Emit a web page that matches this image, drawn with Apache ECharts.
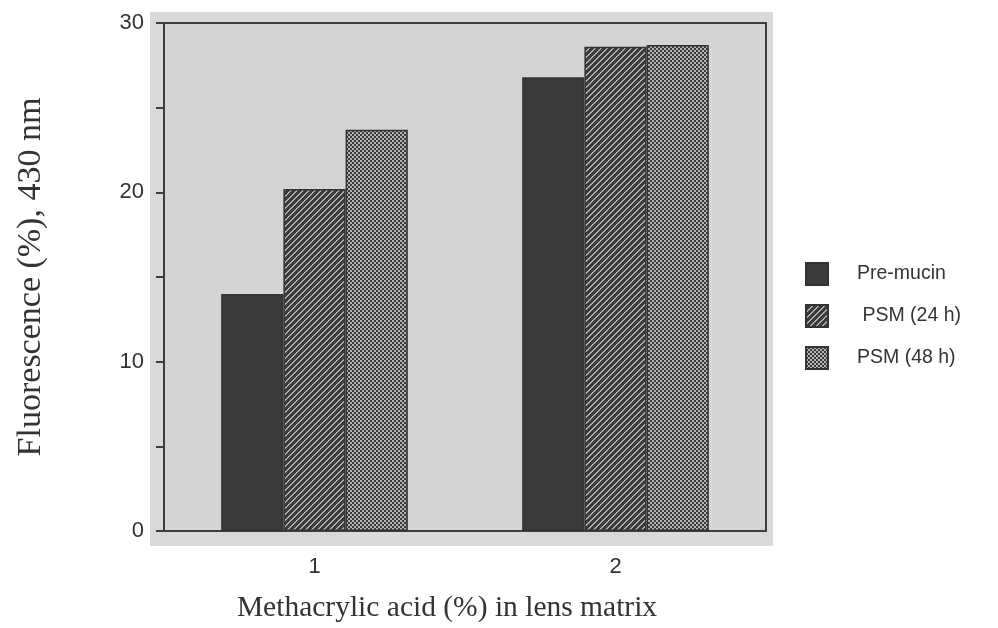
<!DOCTYPE html>
<html>
<head>
<meta charset="utf-8">
<script src="https://cdn.jsdelivr.net/npm/echarts@6/dist/echarts.min.js"></script>
<style>
  html, body { margin: 0; padding: 0; background: #ffffff; }
  #chart { width: 998px; height: 628px; }
</style>
</head>
<body>
<div id="chart"></div>
<script>
// Methacrylic acid content in the lens matrix (%)
const categories = ['1', '2'];
// Fluorescence (%) at 430 nm for each treatment
const seriesNames = ['Pre-mucin', ' PSM (24 h)', 'PSM (48 h)'];
const preMucin = [14.0, 26.8];
const psm24h = [20.2, 28.6];
const psm48h = [23.7, 28.7];
const yTicks = [0, 10, 20, 30];

const DARK = '#3a3a3a';

// Small tiles used as repeating fills for the hatched bars
function makeTile(size, light, isLight) {
  const c = document.createElement('canvas');
  c.width = size; c.height = size;
  const ctx = c.getContext('2d');
  const img = ctx.createImageData(size, size);
  const dk = [0x3a, 0x3a, 0x3a];
  for (let y = 0; y < size; y++) {
    for (let x = 0; x < size; x++) {
      const col = isLight(x, y) ? light : dk;
      const i = (y * size + x) * 4;
      img.data[i] = col[0]; img.data[i + 1] = col[1]; img.data[i + 2] = col[2]; img.data[i + 3] = 255;
    }
  }
  ctx.putImageData(img, 0, 0);
  return c;
}
// diagonal "/" stripes
const stripeTile = makeTile(6, [0xac, 0xac, 0xac], (x, y) => ((x + y) % 6) < 2);
// fine checkerboard
const dotTile = makeTile(4, [0xb4, 0xb4, 0xb4], (x, y) => (((x >> 1) + (y >> 1)) % 2) === 0);

const fills = [
  DARK,
  { image: stripeTile, repeat: 'repeat' },
  { image: dotTile, repeat: 'repeat' }
];
const values = [preMucin, psm24h, psm48h];

const chart = echarts.init(document.getElementById('chart'), null, { renderer: 'canvas' });

const option = {
  animation: false,
  backgroundColor: '#ffffff',
  graphic: [{
    type: 'rect',
    z: -10,
    silent: true,
    shape: { x: 150, y: 12, width: 623, height: 534 },
    style: { fill: '#d9d9d9' }
  }],
  grid: {
    left: 164, right: 232, top: 23, bottom: 96,
    show: true,
    backgroundColor: '#d4d4d4',
    borderColor: '#3e3e3e',
    borderWidth: 2
  },
  legend: {
    orient: 'vertical',
    left: 800,
    top: 257,
    itemWidth: 22,
    itemHeight: 22,
    itemGap: 18,
    icon: 'rect',
    textStyle: {
      fontFamily: 'Liberation Sans',
      fontSize: 19.5,
      lineHeight: 22,
      color: '#333333',
      padding: [0, 0, 0, 24]
    },
    data: seriesNames
  },
  xAxis: {
    type: 'category',
    data: categories,
    name: 'Methacrylic acid (%) in lens matrix',
    nameLocation: 'middle',
    nameGap: 62,
    nameTextStyle: {
      fontFamily: 'Liberation Serif',
      fontSize: 29.5,
      color: '#333333',
      padding: [0, 36, 0, 0]
    },
    axisLine: { lineStyle: { color: '#3e3e3e', width: 2 } },
    axisTick: { length: 7, lineStyle: { color: '#3e3e3e', width: 2 } },
    axisLabel: {
      margin: 25,
      fontFamily: 'Liberation Sans',
      fontSize: 22,
      color: '#333333'
    }
  },
  yAxis: {
    type: 'value',
    min: 0,
    max: 30,
    interval: 5,
    name: 'Fluorescence (%), 430 nm',
    nameLocation: 'middle',
    nameGap: 116,
    nameTextStyle: {
      fontFamily: 'Liberation Serif',
      fontSize: 34,
      color: '#333333'
    },
    axisLine: { show: true, lineStyle: { color: '#3e3e3e', width: 2 } },
    axisTick: { show: true, length: 8, lineStyle: { color: '#3e3e3e', width: 2 } },
    splitLine: { show: false },
    axisLabel: {
      margin: 20,
      fontFamily: 'Liberation Sans',
      fontSize: 22,
      color: '#333333',
      formatter: v => (yTicks.indexOf(v) >= 0 ? String(v) : '')
    }
  },
  series: seriesNames.map((name, i) => ({
    name: name,
    type: 'bar',
    data: values[i],
    barGap: 0,
    barCategoryGap: '38%',
    itemStyle: {
      color: fills[i],
      borderColor: '#333333',
      borderWidth: 1.5
    }
  }))
};

chart.setOption(option);
</script>
</body>
</html>
